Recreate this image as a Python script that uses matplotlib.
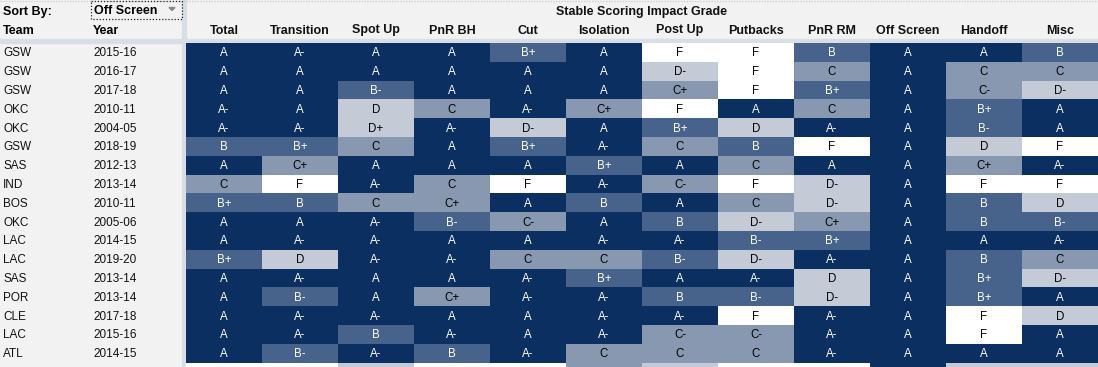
import numpy as np
import matplotlib
matplotlib.use("Agg")
from matplotlib import pyplot as plt
from matplotlib.colors import ListedColormap
from matplotlib.patches import Rectangle, Polygon

plt.rcParams['font.family'] = ['Liberation Sans', 'DejaVu Sans']

# data
columns = ['Total', 'Transition', 'Spot Up', 'PnR BH', 'Cut', 'Isolation',
           'Post Up', 'Putbacks', 'PnR RM', 'Off Screen', 'Handoff', 'Misc']
teams = ['GSW', 'GSW', 'GSW', 'OKC', 'OKC', 'GSW', 'SAS', 'IND', 'BOS', 'OKC',
         'LAC', 'LAC', 'SAS', 'POR', 'CLE', 'LAC', 'ATL', '']
years = ['2015-16', '2016-17', '2017-18', '2010-11', '2004-05', '2018-19',
         '2012-13', '2013-14', '2010-11', '2005-06', '2014-15', '2019-20',
         '2013-14', '2013-14', '2017-18', '2015-16', '2014-15', '']
grades = [
    ['A', 'A-', 'A', 'A', 'B+', 'A', 'F', 'F', 'B', 'A', 'A', 'B'],
    ['A', 'A', 'A', 'A', 'A', 'A', 'D-', 'F', 'C', 'A', 'C', 'C'],
    ['A', 'A', 'B-', 'A', 'A', 'A', 'C+', 'F', 'B+', 'A', 'C-', 'D-'],
    ['A-', 'A', 'D', 'C', 'A-', 'C+', 'F', 'A', 'C', 'A', 'B+', 'A'],
    ['A-', 'A-', 'D+', 'A-', 'D-', 'A', 'B+', 'D', 'A-', 'A', 'B-', 'A'],
    ['B', 'B+', 'C', 'A', 'B+', 'A-', 'C', 'B', 'F', 'A', 'D', 'F'],
    ['A', 'C+', 'A', 'A', 'A', 'B+', 'A', 'C', 'A', 'A', 'C+', 'A-'],
    ['C', 'F', 'A-', 'C', 'F', 'A-', 'C-', 'F', 'D-', 'A', 'F', 'F'],
    ['B+', 'B', 'C', 'C+', 'A', 'B', 'A', 'C', 'D-', 'A', 'B', 'D'],
    ['A', 'A', 'A-', 'B-', 'C-', 'A', 'B', 'D-', 'C+', 'A', 'B', 'B-'],
    ['A', 'A-', 'A-', 'A', 'A', 'A-', 'A-', 'B-', 'B+', 'A', 'A', 'A-'],
    ['B+', 'D', 'A-', 'A-', 'C', 'C', 'B-', 'D-', 'A-', 'A', 'B', 'C'],
    ['A', 'A-', 'A', 'A', 'A-', 'B+', 'A', 'A-', 'D', 'A', 'B+', 'D-'],
    ['A', 'B-', 'A', 'C+', 'A-', 'A-', 'B', 'B-', 'D-', 'A', 'B+', 'A'],
    ['A', 'A-', 'A-', 'A', 'A', 'A-', 'A-', 'F', 'A-', 'A', 'F', 'D'],
    ['A', 'A-', 'B', 'A-', 'A', 'A-', 'C-', 'C-', 'A-', 'A', 'F', 'A'],
    ['A', 'B-', 'A-', 'B', 'A-', 'C', 'C', 'C', 'A-', 'A', 'A', 'A'],
    ['F', 'F', 'D', 'F', 'F', 'C', 'D', 'F', 'F', 'A', 'D', 'D'],
]
sort_by = 'Off Screen'
title = 'Stable Scoring Impact Grade'

level_colors = ['#0b2f60', '#47638b', '#8798b0', '#c5cbd6', '#ffffff']
level_text = ['white', 'white', 'black', 'black', 'black']
levels = np.array([['ABCDF'.index(g[0]) for g in row] for row in grades])

W, H = 1098, 367
fig = plt.figure(figsize=(W / 100, H / 100), dpi=100)
ax = fig.add_axes([0, 0, 1, 1])
ax.set_xlim(0, W)
ax.set_ylim(H, 0)
ax.axis('off')

grid_x0, col_w = 186, 76
row_y0, row_h = 43, 18.8

# backgrounds
ax.add_patch(Rectangle((0, 0), W, H, color='#f2f2f2', zorder=0))
ax.add_patch(Rectangle((0, 39), W, 4, color='#d9dee6', zorder=1))
ax.add_patch(Rectangle((182, 0), 4, H, color='#d9dee6', zorder=1))
ax.plot([0, W], [0.5, 0.5], color='#c8d0dc', lw=1, ls=(0, (1, 1)), zorder=2)

# grade cells
xe = grid_x0 + col_w * np.arange(len(columns) + 1)
ye = row_y0 + row_h * np.arange(len(grades) + 1)
cmap = ListedColormap(level_colors)
ax.pcolormesh(xe, ye, levels, cmap=cmap, vmin=-0.5, vmax=4.5, zorder=3)

for i, row in enumerate(grades):
    if not teams[i]:
        continue  # partly hidden last row: only its colours show
    yc = row_y0 + row_h * (i + 0.5) + 1
    ax.text(3, yc, teams[i], fontsize=8.5, ha='left', va='center', color='#111111', zorder=5)
    ax.text(93, yc, years[i], fontsize=8.5, ha='left', va='center', color='#111111', zorder=5)
    for j, g in enumerate(row):
        xc = grid_x0 + col_w * (j + 0.5)
        ax.text(xc, yc, g, fontsize=8.3, ha='center', va='center',
                color=level_text[levels[i, j]], zorder=5)

# header
for j, c in enumerate(columns):
    ax.text(grid_x0 + col_w * (j + 0.5), 30.5, c, fontsize=9, fontweight='bold',
            ha='center', va='center', color='#111111', zorder=5)
ax.text((grid_x0 + W) / 2, 11.5, title, fontsize=9, fontweight='bold',
        ha='center', va='center', color='#111111', zorder=5)
ax.text(3, 11.5, 'Sort By:', fontsize=9, fontweight='bold', ha='left', va='center', zorder=5)
ax.text(3, 30.5, 'Team', fontsize=9, fontweight='bold', ha='left', va='center', zorder=5)
ax.text(93, 30.5, 'Year', fontsize=9, fontweight='bold', ha='left', va='center', zorder=5)

# sort dropdown
ax.add_patch(Rectangle((90.5, 0.5), 91, 18.5, fill=False, ec='#222222', lw=0.9,
                       ls=(0, (1, 1.5)), zorder=6))
ax.text(94, 11.5, sort_by, fontsize=9, fontweight='bold', ha='left', va='center', zorder=6)
ax.add_patch(Polygon([[169, 7.5], [175, 7.5], [172, 10.5]], color='#888888', zorder=6))

plt.savefig('out.png', dpi=100)
